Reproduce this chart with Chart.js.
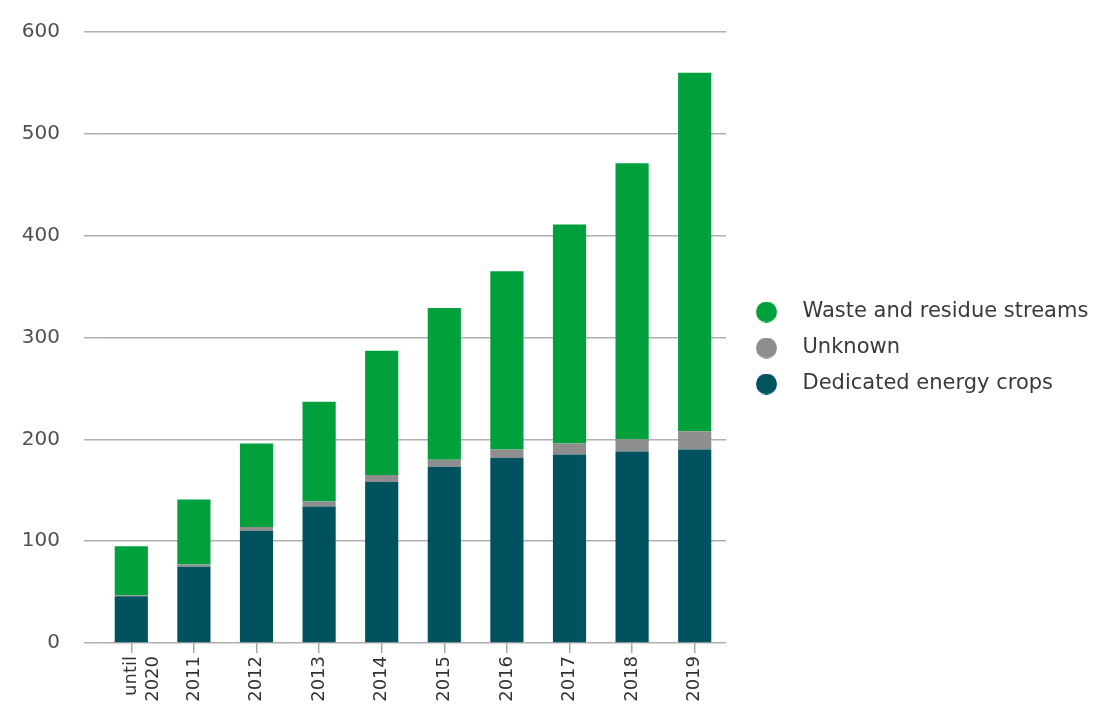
<!DOCTYPE html>
<html lang="en">
<head>
  <meta charset="UTF-8">
  <title>Feedstock by year</title>
  <script src="https://cdn.jsdelivr.net/npm/chart.js"></script>
  <style>
    html, body { margin: 0; padding: 0; background: #fff; }
    .wrap { width: 1115px; height: 718px; }
  </style>
</head>
<body>
  <div class="wrap">
    <canvas id="feedstockChart" width="1115" height="718"></canvas>
  </div>

  <script>
    // Data
    const years = [['until', '2020'], '2011', '2012', '2013', '2014', '2015', '2016', '2017', '2018', '2019'];
    const energyCrops = [46, 75, 110, 134, 158, 173, 182, 185, 188, 190];
    const unknown = [1, 2, 4, 5, 7, 7, 8, 11, 12, 18];
    const wasteResidue = [48, 64, 82, 98, 122, 149, 175, 215, 271, 352];
    const yTicks = [0, 100, 200, 300, 400, 500, 600];

    const seriesNames = ['Dedicated energy crops', 'Unknown', 'Waste and residue streams'];
    const seriesColors = ['#00525f', '#8e8e8e', '#00a03c'];

    const font = 'DejaVu Sans';

    // small round legend markers
    function dot(color) {
      const c = document.createElement('canvas');
      c.width = 21; c.height = 21;
      const g = c.getContext('2d');
      g.fillStyle = color;
      g.beginPath();
      g.arc(10.5, 10.5, 10.5, 0, Math.PI * 2);
      g.fill();
      return c;
    }
    const dots = seriesColors.map(dot);

    // pin the legend width and nudge it into place
    const legendTweak = {
      id: 'legendTweak',
      beforeInit(chart) {
        const lg = chart.legend;
        const fit = lg.fit;
        lg.fit = function () { fit.call(this); this.width = 389; };
        const draw = lg.draw;
        lg.draw = function () {
          const ctx = this.ctx;
          ctx.save();
          ctx.translate(0, -27);
          draw.call(this);
          ctx.restore();
        };
      }
    };

    new Chart(document.getElementById('feedstockChart'), {
      type: 'bar',
      data: {
        labels: years,
        datasets: [
          { label: seriesNames[0], data: energyCrops, backgroundColor: seriesColors[0] },
          { label: seriesNames[1], data: unknown, backgroundColor: seriesColors[1] },
          { label: seriesNames[2], data: wasteResidue, backgroundColor: seriesColors[2] }
        ]
      },
      options: {
        responsive: false,
        devicePixelRatio: 1,
        animation: false,
        layout: { padding: { top: 32, left: 0, right: 0, bottom: 0 } },
        datasets: {
          bar: { categoryPercentage: 1, barPercentage: 0.53, borderWidth: 0 }
        },
        scales: {
          x: {
            stacked: true,
            border: { display: false },
            grid: { display: true, drawOnChartArea: false, offset: false, tickLength: 10, color: '#a8a8a8', lineWidth: 1.5 },
            ticks: {
              autoSkip: false, minRotation: 90, maxRotation: 90, padding: 3,
              color: '#333', font: { family: font, size: 18 }
            },
            afterFit: s => { s.height = 75; }
          },
          y: {
            stacked: true,
            min: 0,
            max: 600,
            border: { display: false },
            grid: { color: '#b0b0b0', lineWidth: 1.5, tickLength: 16 },
            ticks: { padding: 24, color: '#505050', font: { family: font, size: 20 } },
            afterBuildTicks: s => { s.ticks = yTicks.map(v => ({ value: v })); },
            afterFit: s => { s.width = 100; s.paddingTop = 0; s.paddingBottom = 0; }
          }
        },
        plugins: {
          tooltip: { enabled: false },
          legend: {
            position: 'right',
            reverse: true,
            labels: {
              usePointStyle: true,
              pointStyleWidth: 51,
              padding: 15,
              color: '#3a3a3a',
              font: { family: font, size: 21 },
              generateLabels: chart =>
                Chart.defaults.plugins.legend.labels.generateLabels(chart)
                  .map(item => ({ ...item, pointStyle: dots[item.datasetIndex] }))
            }
          }
        }
      },
      plugins: [legendTweak]
    });
  </script>
</body>
</html>
